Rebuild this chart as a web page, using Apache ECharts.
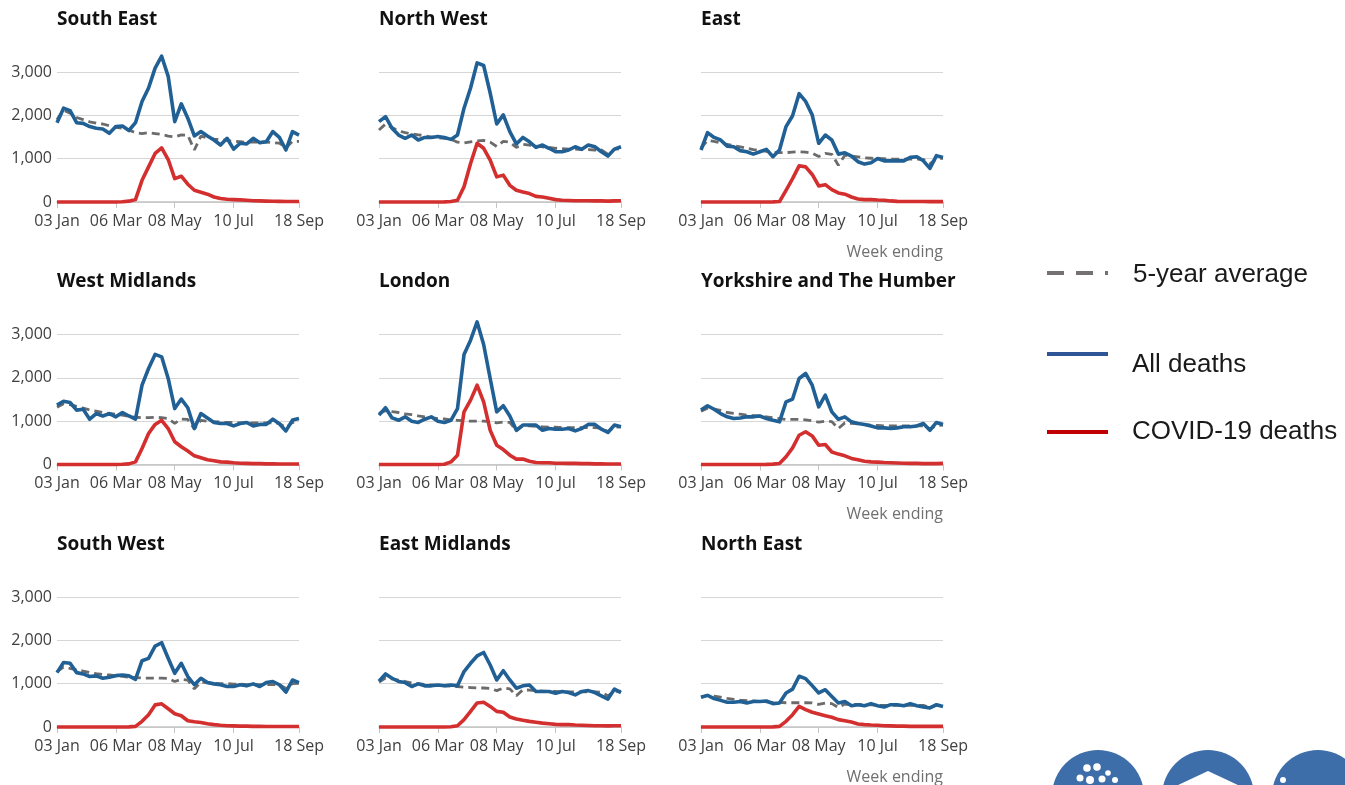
<!DOCTYPE html>
<html lang="en">

<head>
    <meta charset="UTF-8">
    <meta name="viewport" content="width=device-width, initial-scale=1.0">
    <title>Weekly deaths by region</title>
    <style>
        html, body { margin: 0; padding: 0; background: #fff; }
        #main { width: 1345px; height: 785px; }
    </style>
</head>

<body>
    <div id="main"></div>
</body>
<script src="https://cdn.jsdelivr.net/npm/echarts@6.0.0/dist/echarts.min.js"></script>
<script>
    // week ending dates, 2020
    const weeks = ['03 Jan', '10 Jan', '17 Jan', '24 Jan', '31 Jan', '07 Feb', '14 Feb', '21 Feb', '28 Feb',
        '06 Mar', '13 Mar', '20 Mar', '27 Mar', '03 Apr', '10 Apr', '17 Apr', '24 Apr', '01 May', '08 May',
        '15 May', '22 May', '29 May', '05 Jun', '12 Jun', '19 Jun', '26 Jun', '03 Jul', '10 Jul', '17 Jul',
        '24 Jul', '31 Jul', '07 Aug', '14 Aug', '21 Aug', '28 Aug', '04 Sep', '11 Sep', '18 Sep'];
    const tickWeeks = ['03 Jan', '06 Mar', '08 May', '10 Jul', '18 Sep'];
    const yTicks = [0, 1000, 2000, 3000];

    const regions = ['South East', 'North West', 'East', 'West Midlands', 'London',
        'Yorkshire and The Humber', 'South West', 'East Midlands', 'North East'];

    const seAll = [1830, 2165, 2110, 1830, 1815, 1740, 1700, 1685, 1585, 1740, 1755, 1650, 1830, 2320, 2630, 3090, 3365, 2900, 1855, 2265, 1935, 1525, 1625, 1525, 1430, 1315, 1470, 1220, 1355, 1340, 1470, 1370, 1390, 1625, 1490, 1200, 1625, 1545];
    const seAvg = [1900, 2120, 2050, 1950, 1900, 1850, 1820, 1800, 1760, 1720, 1700, 1660, 1600, 1580, 1600, 1580, 1560, 1520, 1500, 1550, 1540, 1200, 1520, 1480, 1450, 1440, 1420, 1400, 1390, 1380, 1390, 1380, 1380, 1370, 1360, 1250, 1400, 1400];
    const seCovid = [0, 0, 0, 0, 0, 0, 0, 0, 0, 0, 5, 20, 55, 500, 810, 1120, 1250, 980, 540, 595, 410, 270, 225, 180, 115, 80, 62, 55, 50, 40, 30, 25, 20, 18, 15, 12, 10, 10];

    const nwAll = [1855, 1970, 1700, 1545, 1470, 1545, 1430, 1490, 1490, 1510, 1490, 1445, 1545, 2165, 2630, 3210, 3150, 2515, 1800, 2010, 1625, 1340, 1490, 1390, 1260, 1315, 1240, 1160, 1160, 1200, 1275, 1215, 1315, 1275, 1160, 1060, 1220, 1275];
    const nwAvg = [1660, 1800, 1720, 1640, 1600, 1570, 1550, 1530, 1500, 1480, 1470, 1450, 1380, 1360, 1390, 1410, 1420, 1380, 1280, 1400, 1380, 1260, 1330, 1310, 1290, 1270, 1260, 1240, 1230, 1220, 1220, 1210, 1210, 1200, 1200, 1100, 1220, 1230];
    const nwCovid = [0, 0, 0, 0, 0, 0, 0, 0, 0, 0, 2, 10, 40, 350, 890, 1355, 1240, 965, 580, 620, 385, 270, 230, 195, 130, 115, 85, 55, 40, 35, 30, 30, 30, 25, 25, 20, 25, 30];

    const eAll = [1200, 1600, 1490, 1430, 1290, 1275, 1185, 1160, 1105, 1160, 1215, 1045, 1200, 1740, 1990, 2500, 2320, 2010, 1355, 1545, 1430, 1105, 1135, 1060, 930, 875, 905, 1005, 950, 950, 950, 950, 1030, 1045, 950, 775, 1070, 1030];
    const eAvg = [1250, 1420, 1400, 1360, 1330, 1300, 1270, 1240, 1210, 1190, 1170, 1150, 1140, 1140, 1150, 1160, 1150, 1130, 1050, 1120, 1100, 850, 1080, 1060, 1040, 1020, 1010, 1000, 1000, 990, 990, 990, 990, 990, 980, 880, 1000, 1010];
    const eCovid = [0, 0, 0, 0, 0, 0, 0, 0, 0, 0, 0, 2, 10, 270, 540, 835, 810, 635, 370, 400, 285, 210, 180, 115, 70, 55, 55, 45, 40, 25, 15, 12, 10, 10, 10, 8, 8, 8];

    const wmAll = [1370, 1460, 1430, 1255, 1275, 1045, 1175, 1120, 1175, 1100, 1200, 1120, 1045, 1830, 2215, 2540, 2485, 1985, 1290, 1510, 1310, 830, 1175, 1075, 970, 945, 945, 890, 945, 970, 890, 925, 925, 1045, 940, 775, 1025, 1060];
    const wmAvg = [1320, 1400, 1380, 1340, 1300, 1260, 1230, 1200, 1180, 1160, 1140, 1110, 1090, 1080, 1080, 1090, 1080, 1060, 950, 1050, 1040, 820, 1020, 1000, 990, 980, 970, 970, 960, 960, 960, 960, 960, 960, 950, 850, 970, 980];
    const wmCovid = [0, 0, 0, 0, 0, 0, 0, 0, 0, 0, 5, 15, 60, 370, 715, 925, 1020, 830, 525, 410, 310, 200, 155, 110, 85, 60, 55, 40, 30, 25, 20, 20, 15, 15, 12, 10, 10, 10];

    const lonAll = [1140, 1310, 1075, 1020, 1100, 1000, 970, 1045, 1100, 1000, 970, 1020, 1290, 2540, 2870, 3290, 2770, 1985, 1215, 1355, 1120, 790, 910, 910, 910, 790, 830, 815, 815, 830, 775, 830, 925, 925, 815, 740, 910, 870];
    const lonAvg = [1180, 1240, 1220, 1200, 1170, 1150, 1120, 1100, 1080, 1060, 1050, 1030, 1020, 1010, 1000, 1000, 1000, 990, 960, 980, 970, 780, 900, 890, 880, 870, 860, 860, 850, 850, 850, 850, 850, 850, 840, 760, 860, 870];
    const lonCovid = [0, 0, 0, 0, 0, 0, 0, 0, 0, 0, 5, 60, 215, 1215, 1485, 1830, 1445, 790, 445, 345, 215, 125, 125, 75, 45, 40, 40, 30, 30, 25, 25, 20, 20, 15, 15, 12, 12, 12];

    const yhAll = [1255, 1355, 1275, 1175, 1100, 1060, 1075, 1100, 1100, 1120, 1060, 1020, 985, 1445, 1510, 1985, 2100, 1830, 1330, 1600, 1215, 1045, 1100, 985, 945, 925, 890, 845, 845, 830, 845, 870, 870, 890, 945, 790, 970, 925];
    const yhAvg = [1230, 1300, 1280, 1250, 1200, 1180, 1160, 1140, 1130, 1120, 1100, 1080, 1060, 1040, 1040, 1040, 1030, 1010, 980, 1000, 990, 830, 960, 950, 940, 920, 910, 900, 890, 890, 890, 890, 890, 890, 890, 820, 900, 910];
    const yhCovid = [0, 0, 0, 0, 0, 0, 0, 0, 0, 0, 2, 8, 25, 180, 385, 675, 755, 660, 445, 460, 290, 240, 200, 140, 110, 75, 60, 55, 45, 40, 35, 30, 25, 25, 20, 20, 20, 25];

    const swAll = [1255, 1490, 1470, 1255, 1225, 1165, 1180, 1125, 1150, 1185, 1200, 1180, 1100, 1530, 1585, 1865, 1945, 1585, 1240, 1470, 1165, 975, 1125, 1025, 995, 975, 935, 935, 975, 950, 995, 935, 1025, 1050, 975, 805, 1085, 1025];
    const swAvg = [1280, 1380, 1350, 1320, 1290, 1260, 1230, 1210, 1200, 1180, 1170, 1150, 1140, 1130, 1130, 1130, 1130, 1120, 1050, 1100, 1080, 880, 1040, 1020, 1010, 1000, 1000, 990, 990, 980, 980, 980, 980, 980, 980, 890, 1000, 1010];
    const swCovid = [0, 0, 0, 0, 0, 0, 0, 0, 0, 0, 0, 3, 15, 130, 285, 510, 535, 420, 305, 260, 145, 120, 105, 75, 55, 40, 30, 25, 20, 20, 15, 15, 12, 12, 10, 10, 10, 10];

    const emAll = [1055, 1225, 1125, 1050, 1025, 935, 995, 950, 950, 970, 950, 970, 950, 1280, 1470, 1640, 1720, 1430, 1085, 1300, 1085, 895, 950, 970, 820, 820, 820, 780, 820, 795, 740, 820, 840, 795, 720, 645, 875, 795];
    const emAvg = [1040, 1130, 1110, 1080, 1050, 1020, 1000, 980, 970, 960, 950, 940, 930, 920, 910, 900, 900, 890, 840, 900, 880, 720, 860, 850, 840, 830, 820, 820, 810, 810, 810, 810, 810, 810, 800, 720, 820, 830];
    const emCovid = [0, 0, 0, 0, 0, 0, 0, 0, 0, 0, 0, 5, 30, 170, 360, 555, 570, 475, 360, 340, 230, 185, 155, 130, 110, 90, 75, 60, 55, 55, 45, 40, 35, 30, 30, 25, 30, 30];

    const neAll = [685, 730, 655, 615, 570, 570, 590, 555, 590, 590, 600, 540, 555, 785, 875, 1170, 1115, 955, 785, 860, 705, 555, 590, 490, 515, 490, 540, 490, 460, 515, 515, 490, 540, 490, 460, 440, 515, 475];
    const neAvg = [690, 730, 710, 690, 660, 640, 620, 610, 600, 590, 580, 570, 570, 560, 560, 560, 560, 555, 520, 550, 540, 450, 530, 520, 520, 510, 510, 500, 500, 500, 500, 500, 500, 500, 500, 450, 500, 510];
    const neCovid = [0, 0, 0, 0, 0, 0, 0, 0, 0, 0, 0, 3, 15, 130, 285, 475, 400, 340, 300, 260, 225, 170, 145, 115, 70, 55, 45, 40, 30, 25, 20, 20, 15, 15, 15, 15, 15, 15];

    const allDeaths = [seAll, nwAll, eAll, wmAll, lonAll, yhAll, swAll, emAll, neAll];
    const avgDeaths = [seAvg, nwAvg, eAvg, wmAvg, lonAvg, yhAvg, swAvg, emAvg, neAvg];
    const covidDeaths = [seCovid, nwCovid, eCovid, wmCovid, lonCovid, yhCovid, swCovid, emCovid, neCovid];

    function load() {
        const chart = echarts.init(document.getElementById('main'));
        const showTick = (i, v) => tickWeeks.includes(v);
        const labelFont = { color: '#404040', fontFamily: 'Open Sans', fontSize: 16 };

        const grids = [], xAxes = [], yAxes = [], series = [], titles = [];
        regions.forEach((name, i) => {
            const r = Math.floor(i / 3), c = i % 3;
            const left = 57 + c * 322, top = 72 + r * 262.5;
            grids.push({ left: left, top: top, width: 242, height: 130 });
            xAxes.push({
                gridIndex: i, type: 'category', boundaryGap: false, data: weeks,
                axisLine: { lineStyle: { color: '#c4c4c4', width: 1.5 } },
                axisTick: { interval: showTick, length: 6, lineStyle: { color: '#c4c4c4' } },
                axisLabel: Object.assign({ interval: showTick, margin: 11 }, labelFont),
                splitLine: { show: false }
            });
            yAxes.push({
                gridIndex: i, type: 'value', min: yTicks[0], max: yTicks[yTicks.length - 1], interval: 1000,
                axisLine: { show: false }, axisTick: { show: false },
                axisLabel: Object.assign({ show: c === 0, margin: 5, formatter: v => v.toLocaleString('en-GB') }, labelFont),
                splitLine: { lineStyle: { color: '#d6d6d6' } }
            });
            titles.push({
                text: name, left: left, top: 10 + r * 262.5, padding: 0,
                textStyle: { fontFamily: 'Open Sans', fontWeight: 'bold', fontSize: 19, color: '#111' }
            });
            series.push({
                name: '5-year average', type: 'line', xAxisIndex: i, yAxisIndex: i, data: avgDeaths[i],
                showSymbol: false, clip: false, lineStyle: { color: '#6b6b6b', width: 2.8, type: [8, 5] }
            });
            series.push({
                name: 'All deaths', type: 'line', xAxisIndex: i, yAxisIndex: i, data: allDeaths[i],
                showSymbol: false, clip: false, lineStyle: { color: '#206095', width: 3.6, join: 'round' }
            });
            series.push({
                name: 'COVID-19 deaths', type: 'line', xAxisIndex: i, yAxisIndex: i, data: covidDeaths[i],
                showSymbol: false, clip: false, lineStyle: { color: '#d32f2f', width: 3.6, join: 'round' }
            });
        });

        // "Week ending" under the right column of each row
        [0, 1, 2].forEach(r => {
            titles.push({
                text: 'Week ending', right: 402, top: 244 + r * 262.5, padding: 0,
                textStyle: { fontFamily: 'Open Sans', fontWeight: 'normal', fontSize: 16, color: '#707070' }
            });
        });

        const legendFont = '26px "Liberation Sans", Arial, sans-serif';
        const graphic = [
            { type: 'line', shape: { x1: 1047, y1: 273, x2: 1108, y2: 273 }, style: { stroke: '#767171', lineWidth: 4, lineDash: [17, 12] } },
            { type: 'text', style: { text: '5-year average', x: 1133, y: 275, font: legendFont, fill: '#1a1a1a', verticalAlign: 'middle', textVerticalAlign: 'middle' } },
            { type: 'line', shape: { x1: 1047, y1: 354, x2: 1108, y2: 354 }, style: { stroke: '#2f5597', lineWidth: 4 } },
            { type: 'text', style: { text: 'All deaths', x: 1132, y: 365, font: legendFont, fill: '#1a1a1a', verticalAlign: 'middle', textVerticalAlign: 'middle' } },
            { type: 'line', shape: { x1: 1047, y1: 432, x2: 1108, y2: 432 }, style: { stroke: '#c00000', lineWidth: 4 } },
            { type: 'text', style: { text: 'COVID-19 deaths', x: 1132, y: 432, font: legendFont, fill: '#1a1a1a', verticalAlign: 'middle', textVerticalAlign: 'middle' } },
            // logo, cut by the bottom edge
            { type: 'circle', shape: { cx: 1098, cy: 796, r: 46 }, style: { fill: '#3e6ea9' } },
            { type: 'circle', shape: { cx: 1208, cy: 796, r: 46 }, style: { fill: '#3e6ea9' } },
            { type: 'circle', shape: { cx: 1318, cy: 796, r: 46 }, style: { fill: '#3e6ea9' } },
            { type: 'polygon', shape: { points: [[1176, 786], [1208, 771], [1240, 786]] }, style: { fill: '#fff' } }
        ];
        [[1087, 768, 3.8], [1097, 767, 3.8], [1108, 773, 2.8], [1080, 778, 3.5], [1090, 780, 4], [1102, 779, 3.5], [1115, 780, 3], [1283, 780, 3]].forEach(d => {
            graphic.push({ type: 'circle', shape: { cx: d[0], cy: d[1], r: d[2] }, style: { fill: '#fff' } });
        });

        chart.setOption({
            animation: false,
            title: titles,
            grid: grids,
            xAxis: xAxes,
            yAxis: yAxes,
            series: series,
            graphic: graphic
        });
    }

    window.onload = function () {
        load();
    }
</script>

</html>
